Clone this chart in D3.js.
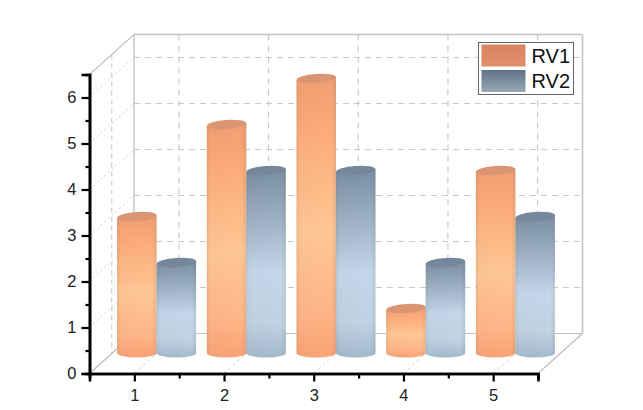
<!DOCTYPE html>
<html><head><meta charset="utf-8">
<script src="https://cdn.jsdelivr.net/npm/d3@7/dist/d3.min.js"></script>
<style>html,body{margin:0;padding:0;background:#fff}svg{display:block}</style></head>
<body><svg id="c" width="643" height="410"></svg>
<script>
const categories=[1,2,3,4,5];
const seriesNames=["RV1","RV2"];
const rv1=[3,5,6,1,4];
const rv2=[2,4,4,2,3];
const yTicks=[0,1,2,3,4,5,6];
const W=643,H=410;
const dx=44.5,dy=-40;
const x=d3.scaleLinear().domain([0.5,5.5]).range([89.5,538]);
const y=d3.scaleLinear().domain([0,6.5]).range([373.5,74.5]);
const band=d3.scaleBand().domain(seriesNames).range([-39.5,39.5]);
const svg=d3.select("#c");
const defs=svg.append("defs");
function lin(id,dir,stops){
  const g=defs.append("linearGradient").attr("id",id).attr("x1",0).attr("y1",0)
    .attr("x2",dir=="h"?1:0).attr("y2",dir=="h"?0:1);
  stops.forEach(s=>g.append("stop").attr("offset",s[0]).attr("stop-color",s[1]).attr("stop-opacity",s[2]===undefined?1:s[2]));
}
lin("g0","v",[[0,"#f09e72"],[0.18,"#fdaa79"],[0.55,"#ffc794"],[0.85,"#ffb486"],[1,"#f9a276"]]);
lin("g1","v",[[0,"#788da1"],[0.2,"#93a8bb"],[0.55,"#c4d7e9"],[0.82,"#bfd2e3"],[1,"#a3b9cc"]]);
lin("edge","h",[[0,"#7a6a5a",0.18],[0.08,"#7a6a5a",0.03],[0.88,"#7a6a5a",0],[1,"#6a6a6a",0.16]]);
lin("l0","v",[[0,"#d8855f"],[1,"#e08e6c"]]);
lin("l1","v",[[0,"#5f7489"],[1,"#98a7b3"]]);
const topCols=["#dc9572","#74889b"];
const soft=defs.append("filter").attr("id","soft");
soft.append("feGaussianBlur").attr("stdDeviation",0.55);

// walls and grid
const grid=svg.append("g").attr("fill","none");
const xGrid=categories, yGrid=yTicks.slice(1);
function seg(a,b,c,d,col,w,dash){
  grid.append("line").attr("x1",a).attr("y1",b).attr("x2",c).attr("y2",d)
   .attr("stroke",col).attr("stroke-width",w).attr("stroke-dasharray",dash||null);
}
const x0=x(0.5),x1=x(5.5),yb=y(0),yt=y(6.5);
const dash="6 5",gridCol="#c9c9c9";
yGrid.forEach(v=>{
  seg(x0+dx,y(v)+dy,x1+dx,y(v)+dy,gridCol,1.2,dash);
  seg(x0,y(v),x0+dx,y(v)+dy,"#cfcfcf",1,"2 3");
});
xGrid.forEach(v=>{
  seg(x(v)+dx,yt+dy,x(v)+dx,yb+dy,gridCol,1.2,dash);
  seg(x(v),yb,x(v)+dx,yb+dy,"#cfcfcf",1,"3 3");
});
seg(x0+dx/2,yt+dy/2,x0+dx/2,yb+dy/2,gridCol,1.1,"5 4");
seg(x0+dx,yt+dy,x1+dx,yt+dy,"#c4c4c4",1.6);
seg(x1+dx,yt+dy,x1+dx,yb+dy,"#c4c4c4",1.6);
seg(x0+dx,yt+dy,x0+dx,yb+dy,"#c4c4c4",1.4);
seg(x0+dx,yb+dy,x1+dx,yb+dy,"#bdbdbd",1.2);
seg(x0,yt,x0+dx,yt+dy,"#c4c4c4",1.2);
seg(x0,yb,x0+dx,yb+dy,"#bdbdbd",1.2);
seg(x1,yb,x1+dx,yb+dy,"#bdbdbd",1.2);

// bars
const rows=categories.flatMap((c,i)=>[{c,s:0,n:seriesNames[0],v:rv1[i]},{c,s:1,n:seriesNames[1],v:rv2[i]}]);
const ry=4.6,bw=band.bandwidth();
const bars=svg.append("g").attr("filter","url(#soft)").selectAll("g").data(rows).join("g");
function body(d){
  const l=x(d.c)+dx/2+band(d.n),r=l+bw,t=y(d.v)+dy/2+1,b=y(0)+dy/2-0.5;
  return `M${l},${t+1.4}L${l},${b}A${bw/2},${ry} 0 0 0 ${r},${b}L${r},${t-1.4}Z`;
}
bars.append("path").attr("d",body).attr("fill",d=>`url(#g${d.s})`);
bars.append("path").attr("d",body).attr("fill","url(#edge)");
bars.append("ellipse")
  .attr("cx",0).attr("cy",0)
  .attr("transform",d=>`translate(${x(d.c)+dx/2+band(d.n)+bw/2},${y(d.v)+dy/2+1}) rotate(-4)`)
  .attr("rx",bw/2).attr("ry",ry)
  .attr("fill",d=>topCols[d.s]);

// axes
svg.append("g").attr("transform",`translate(${x0},0)`)
  .call(d3.axisLeft(y).tickValues(yTicks).tickSize(8).tickPadding(5).tickFormat(d3.format("d")));
const minorY=d3.range(0,13).map(i=>i/2).filter(v=>!Number.isInteger(v));
svg.append("g").attr("transform",`translate(${x0},0)`)
  .call(d3.axisLeft(y).tickValues(minorY).tickSize(4).tickFormat(""));
svg.append("g").attr("transform",`translate(0,${yb})`)
  .call(d3.axisBottom(x).tickValues(categories).tickSize(8).tickPadding(8).tickFormat(d3.format("d")));
const minorX=[0.5,1.5,2.5,3.5,4.5,5.5];
svg.append("g").attr("transform",`translate(0,${yb})`)
  .call(d3.axisBottom(x).tickValues(minorX).tickSize(5).tickFormat(""));
svg.selectAll(".domain").attr("stroke","#000").attr("stroke-width",2.6);
svg.selectAll(".tick line").attr("stroke","#000").attr("stroke-width",2.2);
svg.selectAll(".tick text").attr("font-family","Liberation Sans, Arial, sans-serif").style("font-size","16.5px").attr("fill","#222");

// legend
const lg=svg.append("g").attr("transform","translate(478.5,42.5)");
lg.append("rect").attr("width",95).attr("height",52).attr("fill","#fff").attr("stroke","#666").attr("stroke-width",1);
seriesNames.forEach((n,i)=>{
  lg.append("rect").attr("x",3).attr("y",2+i*25.5).attr("width",44).attr("height",22).attr("fill",`url(#l${i})`);
  lg.append("text").attr("x",53).attr("y",20+i*25.5).attr("font-family","Liberation Sans, Arial, sans-serif")
    .attr("font-size",20).attr("fill","#111").text(n);
});
</script></body></html>
